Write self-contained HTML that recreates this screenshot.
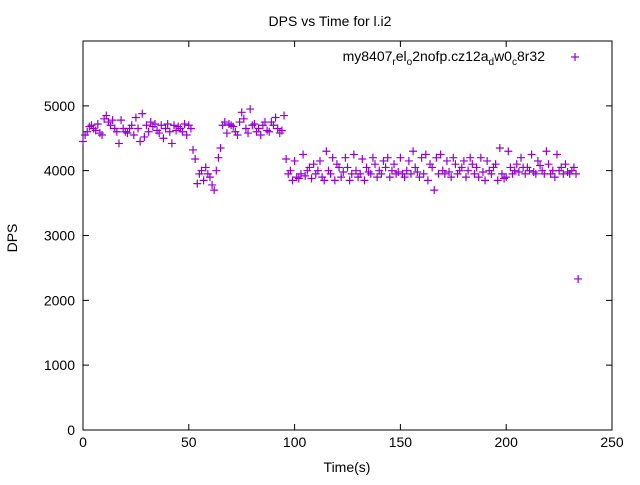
<!DOCTYPE html>
<html><head><meta charset="utf-8"><style>
body{margin:0;background:#fff}
svg{font-family:"Liberation Sans",sans-serif;font-size:14px}
</style></head><body>
<svg id="chart" width="640" height="480">
<rect x="0" y="0" width="640" height="480" fill="#fff"/>
<text x="330" y="26" text-anchor="middle">DPS vs Time for l.i2</text>
<text transform="translate(17,238) rotate(-90)" text-anchor="middle">DPS</text>
<text x="347" y="472" text-anchor="middle">Time(s)</text>
<g id="axes"></g>
<g id="points"></g>
<g>
<text x="545" y="61" text-anchor="end">my8407<tspan dy="4" font-size="10">r</tspan><tspan dy="-4">el</tspan><tspan dy="4" font-size="10">o</tspan><tspan dy="-4">2nofp.cz12a</tspan><tspan dy="4" font-size="10">d</tspan><tspan dy="-4">w0</tspan><tspan dy="4" font-size="10">c</tspan><tspan dy="-4">8r32</tspan></text>
<path d="M571 57h8M575 53v8" stroke="#9400d3" stroke-width="1.2"/>
</g>
</svg>
<script>
const xTicks=[0,50,100,150,200,250];
const yTicks=[0,1000,2000,3000,4000,5000];
const dpsValues=[4450,4550,4600,4680,4700,4650,4620,4720,4580,4550,4800,4850,4750,4700,4780,4650,4600,4420,4780,4650,4600,4580,4650,4700,4550,4820,4650,4450,4880,4520,4700,4600,4750,4680,4720,4620,4580,4700,4500,4650,4720,4600,4420,4700,4620,4680,4650,4600,4720,4550,4700,4650,4320,
4180,3800,3950,4000,3850,4050,3950,3900,3780,3700,4000,4200,4350,
4700,4750,4580,4720,4700,4680,4600,4550,4750,4900,4800,4650,4580,4950,4700,4720,4600,4650,4550,4700,4750,4620,4600,4750,4700,4820,4650,4580,4620,4850,
4180,3950,4000,3850,4150,3900,3880,3950,4250,3920,4000,4050,3880,4100,3950,4000,4150,3900,3850,4300,4000,3950,4200,3850,4100,4050,3900,3980,4200,4050,3850,3950,4250,4000,3900,3950,4180,3850,4050,3980,3950,4200,4100,3900,4000,3950,4150,4050,4200,3900,4000,4100,3950,3980,4200,3950,3900,4000,4150,3950,4300,4050,3980,3900,4200,3950,4250,3850,4100,4050,3700,4200,3950,4250,4000,3950,4150,3980,3900,4200,4100,3950,4000,4050,4150,3900,4000,4200,4100,3950,4050,3900,4200,3980,3850,4150,4000,3950,4050,4100,3850,4350,3950,3880,3900,4300,4050,3950,4000,4100,3980,4200,4050,3950,4050,4000,4250,3980,3950,4150,4080,4000,3950,4300,4100,3950,4000,3900,4250,4000,4050,3950,4100,3980,3950,4000,4050,3950,
2330];
const timeValues=dpsValues.map((v,i)=>i);
const L=83,R=612,T=41,B=430;
const xs=t=>L+(t/250)*(R-L);
const ys=v=>B-(v/6000)*(B-T);
const NS="http://www.w3.org/2000/svg";
const ax=document.getElementById('axes');
function mk(tag,attrs,parent){const e=document.createElementNS(NS,tag);for(const k in attrs)e.setAttribute(k,attrs[k]);parent.appendChild(e);return e;}
const frame=mk('rect',{x:L,y:T,width:R-L,height:B-T,fill:'none',stroke:'#000','stroke-width':1},ax);


xTicks.forEach(t=>{
  const p=mk('path',{d:`M${xs(t)} ${B}v-6M${xs(t)} ${T}v6`,stroke:'#000'},ax);
  
  
  const tx=mk('text',{x:xs(t),y:B+17,'text-anchor':'middle'},ax);tx.textContent=t;
  
  
});
yTicks.forEach(v=>{
  const p=mk('path',{d:`M${L} ${ys(v)}h6M${R} ${ys(v)}h-6`,stroke:'#000'},ax);
  
  
  const tx=mk('text',{x:L-8,y:ys(v)+5,'text-anchor':'end'},ax);tx.textContent=v;
  
  
});
const pg=document.getElementById('points');
dpsValues.forEach((v,i)=>{
  const x=xs(timeValues[i]),y=ys(v);
  const p=mk('path',{d:`M${x-4} ${y}h8M${x} ${y-4}v8`,stroke:'#9400d3','stroke-width':1.2},pg);
  
  
});
</script>
</body></html>
